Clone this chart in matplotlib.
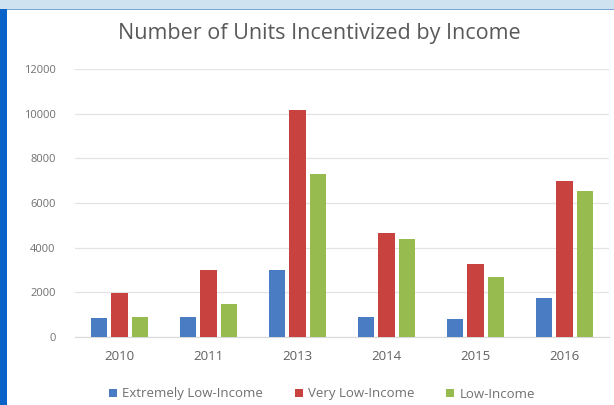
import matplotlib
matplotlib.use("Agg")
import matplotlib.pyplot as plt
import numpy as np
from matplotlib.patches import Rectangle

YEARS = ["2010", "2011", "2013", "2014", "2015", "2016"]
SERIES = ["Extremely Low-Income", "Very Low-Income", "Low-Income"]
EXTREMELY_LOW = [850, 900, 3000, 900, 800, 1750]
VERY_LOW = [1950, 3000, 10150, 4650, 3270, 6980]
LOW = [900, 1480, 7290, 4380, 2690, 6530]
COLORS = ["#4a7cc4", "#c8433f", "#97bb4f"]

plt.rcParams["font.family"] = ["Open Sans", "DejaVu Sans"]

fig = plt.figure(figsize=(6.14, 4.05), dpi=100)
# page decoration: light blue top band and blue left border
fig.patches.append(Rectangle((0, 1 - 9 / 405), 1, 9 / 405, transform=fig.transFigure,
                             facecolor="#cfe2f0", edgecolor="none", zorder=0))
fig.patches.append(Rectangle((0, 1 - 10 / 405), 1, 1.5 / 405, transform=fig.transFigure,
                             facecolor="#7aa6d6", edgecolor="none", zorder=0))
fig.patches.append(Rectangle((0, 0), 7 / 614, 1 - 9 / 405, transform=fig.transFigure,
                             facecolor="#0a63c9", edgecolor="none", zorder=0))

ax = fig.add_axes([75 / 614, 1 - 337 / 405, 534 / 614, 268 / 405])
x = np.arange(len(YEARS))
w = 0.18
step = 0.225
for k, (vals, name) in enumerate(zip([EXTREMELY_LOW, VERY_LOW, LOW], SERIES)):
    ax.bar(x + (k - 1) * step, vals, width=w, color=COLORS[k], label=name, zorder=3)

ax.set_xlim(-0.5, 5.5)
ax.set_ylim(0, 12000)
ax.set_yticks(range(0, 12001, 2000))
ax.grid(axis="y", color="#e3e3e3", lw=0.9, zorder=0)
for s in ["top", "right", "left"]:
    ax.spines[s].set_visible(False)
ax.spines["bottom"].set_color("#d9d9d9")
ax.tick_params(length=0)
ax.tick_params(axis="y", labelsize=8, labelcolor="#707070", pad=14)
ax.tick_params(axis="x", labelsize=9.5, labelcolor="#606060", pad=9)
ax.set_xticks(x)
ax.set_xticklabels(YEARS)

fig.text(319 / 614, 1 - 33 / 405, "Number of Units Incentivized by Income",
         ha="center", va="center", fontsize=15.5, color="#595959")

ax.legend(loc="center", bbox_to_anchor=((322 - 75) / 534, (337 - 394) / 268), ncol=3,
          frameon=False, fontsize=9.5, labelcolor="#707070", handlelength=0.6,
          handleheight=0.6, handletextpad=0.4, columnspacing=2.4)

fig.savefig("out.png", dpi=100)
